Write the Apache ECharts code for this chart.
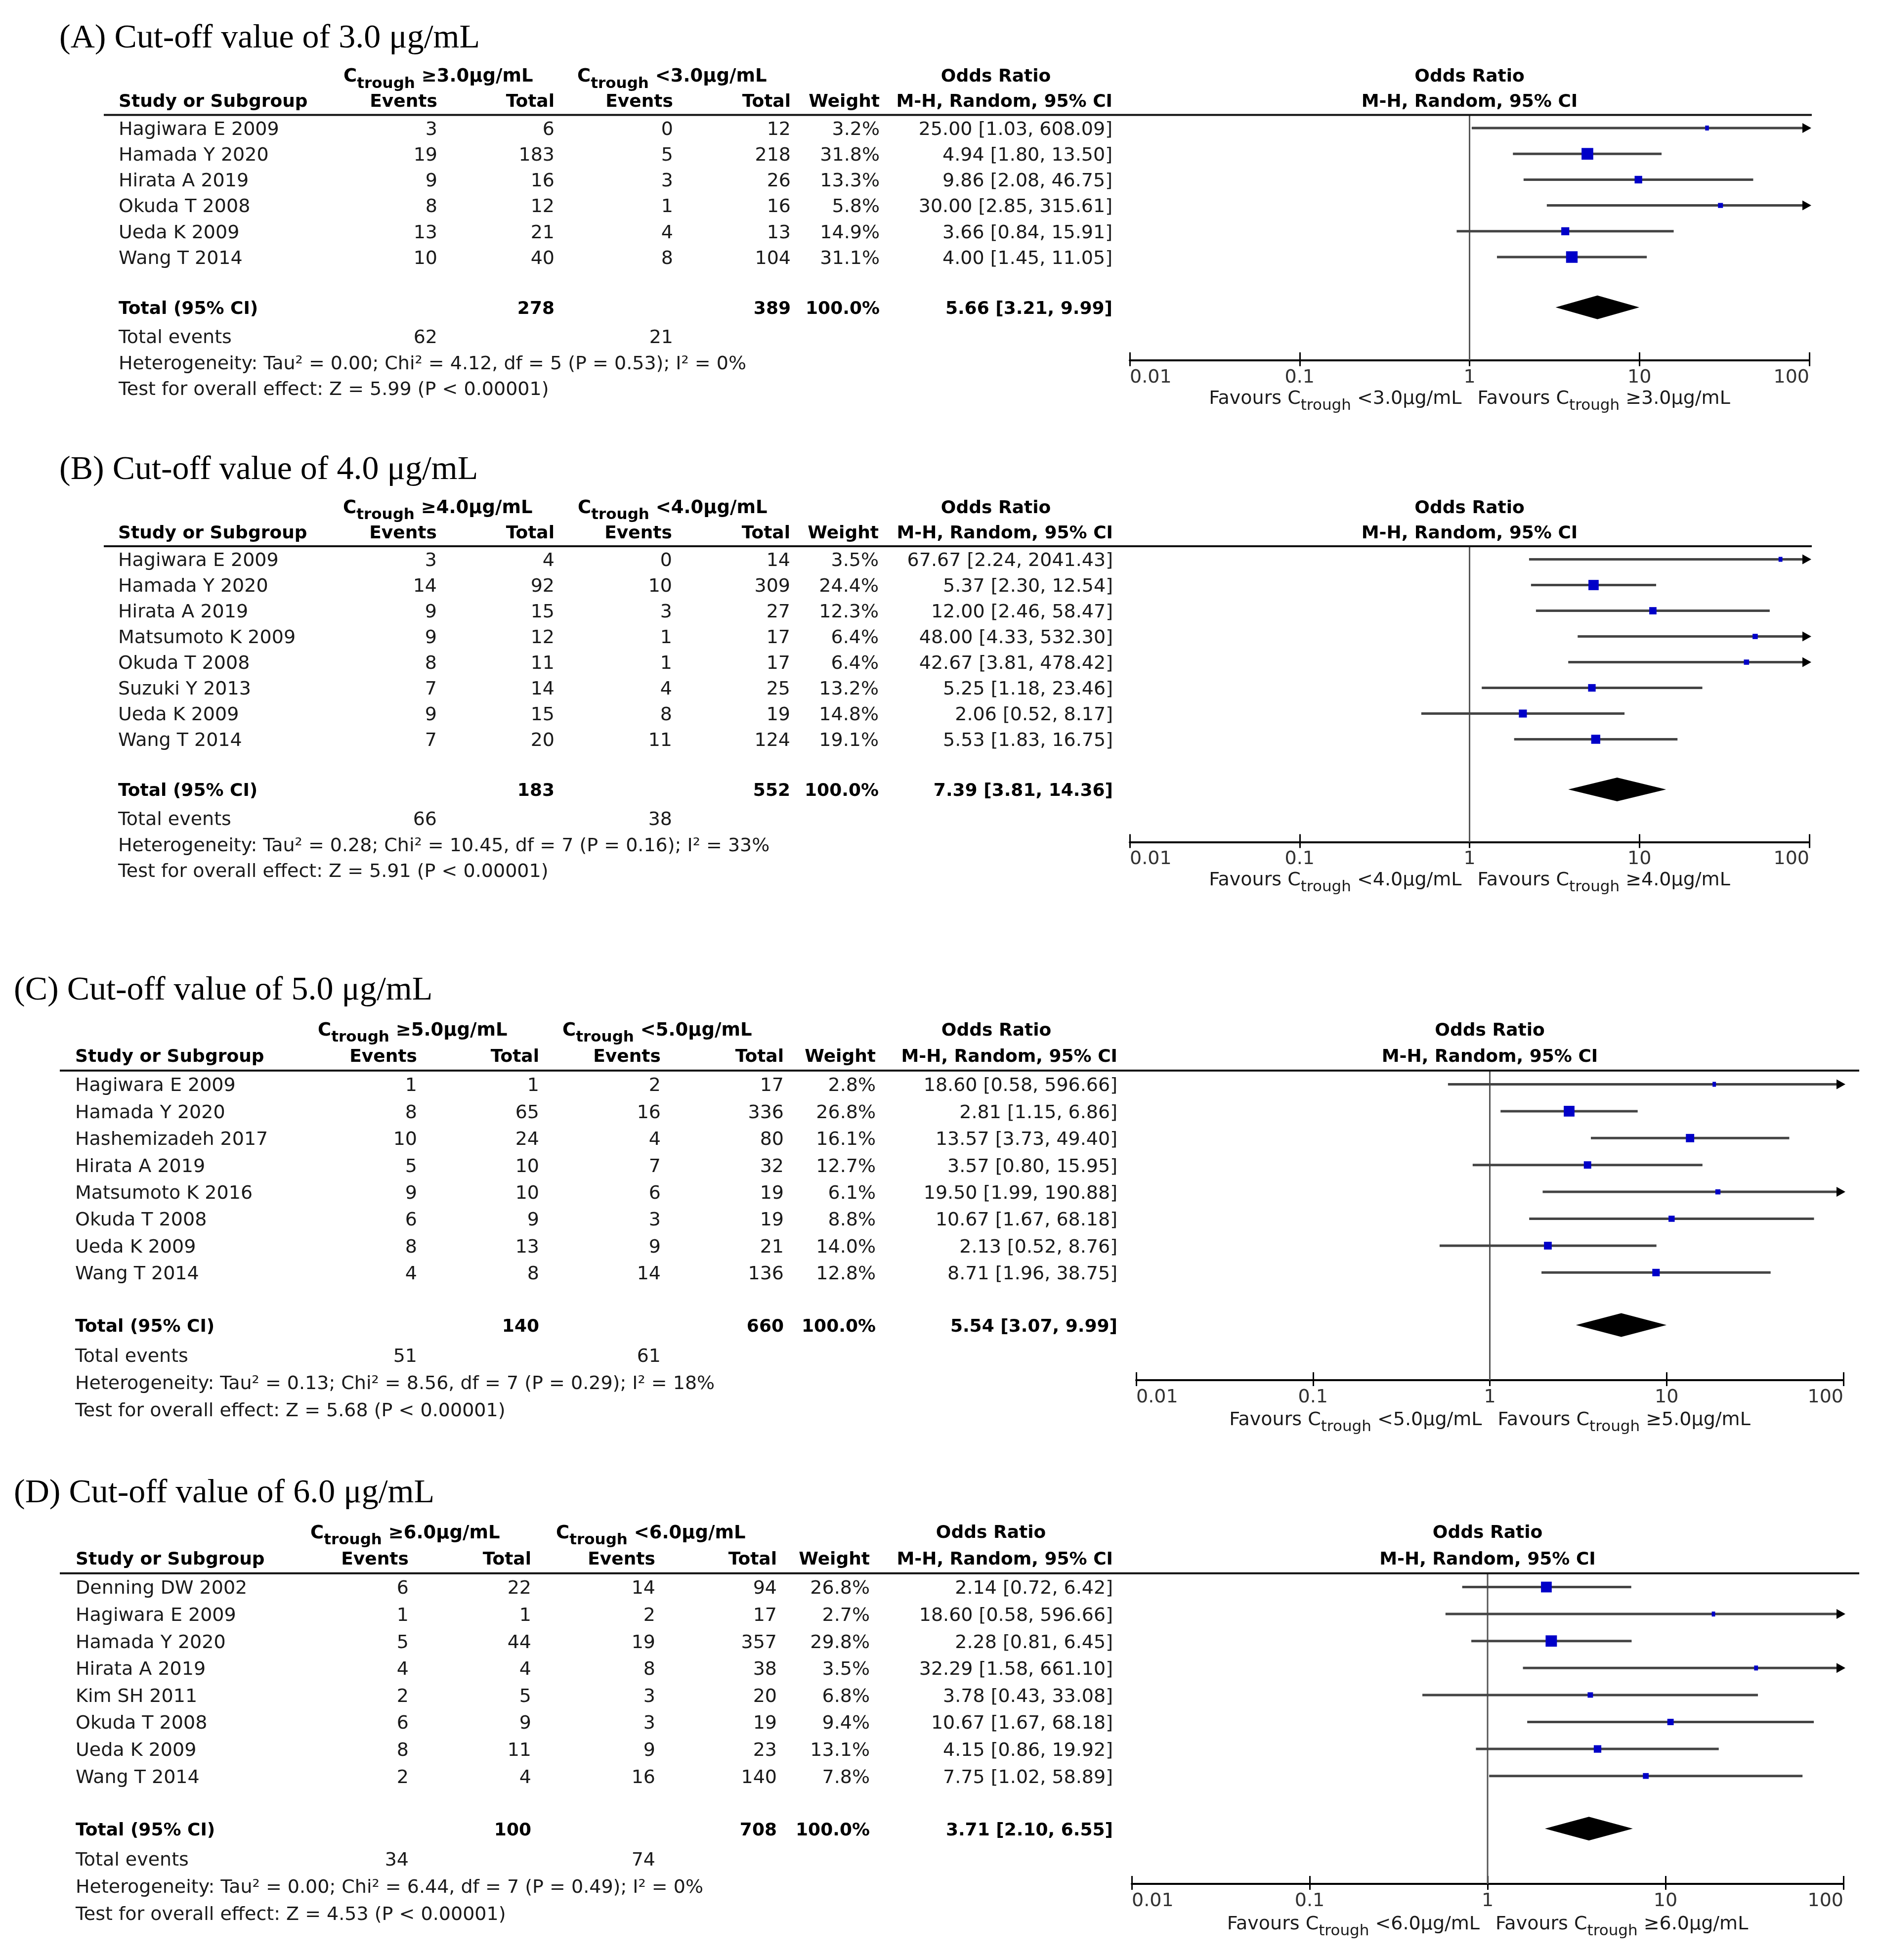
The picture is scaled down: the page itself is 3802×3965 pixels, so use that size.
<!DOCTYPE html>
<html>
<head>
<meta charset="utf-8">
<script src="https://cdn.jsdelivr.net/npm/echarts@6/dist/echarts.min.js"></script>
<style>
html,body{margin:0;padding:0;background:#ffffff;}
#chart{width:3802px;height:3965px;}
</style>
</head>
<body>
<div id="chart"></div>
<script>
// ---------------- DATA ----------------
const tickValues = [0.01, 0.1, 1, 10, 100];

// Panel A: cut-off 3.0
const studiesA = ['Hagiwara E 2009','Hamada Y 2020','Hirata A 2019','Okuda T 2008','Ueda K 2009','Wang T 2014'];
const eventsHighA = [3,19,9,8,13,10];
const totalHighA = [6,183,16,12,21,40];
const eventsLowA = [0,5,3,1,4,8];
const totalLowA = [12,218,26,16,13,104];
const weightA = [3.2,31.8,13.3,5.8,14.9,31.1];
const orA = [25.00,4.94,9.86,30.00,3.66,4.00];
const ciLowA = [1.03,1.80,2.08,2.85,0.84,1.45];
const ciHighA = [608.09,13.50,46.75,315.61,15.91,11.05];
const pooledA = [5.66,3.21,9.99];
const totalsA = [278,389,62,21];
const hetA = 'Heterogeneity: Tau\u00b2 = 0.00; Chi\u00b2 = 4.12, df = 5 (P = 0.53); I\u00b2 = 0%';
const testA = 'Test for overall effect: Z = 5.99 (P < 0.00001)';

// Panel B: cut-off 4.0
const studiesB = ['Hagiwara E 2009','Hamada Y 2020','Hirata A 2019','Matsumoto K 2009','Okuda T 2008','Suzuki Y 2013','Ueda K 2009','Wang T 2014'];
const eventsHighB = [3,14,9,9,8,7,9,7];
const totalHighB = [4,92,15,12,11,14,15,20];
const eventsLowB = [0,10,3,1,1,4,8,11];
const totalLowB = [14,309,27,17,17,25,19,124];
const weightB = [3.5,24.4,12.3,6.4,6.4,13.2,14.8,19.1];
const orB = [67.67,5.37,12.00,48.00,42.67,5.25,2.06,5.53];
const ciLowB = [2.24,2.30,2.46,4.33,3.81,1.18,0.52,1.83];
const ciHighB = [2041.43,12.54,58.47,532.30,478.42,23.46,8.17,16.75];
const pooledB = [7.39,3.81,14.36];
const totalsB = [183,552,66,38];
const hetB = 'Heterogeneity: Tau\u00b2 = 0.28; Chi\u00b2 = 10.45, df = 7 (P = 0.16); I\u00b2 = 33%';
const testB = 'Test for overall effect: Z = 5.91 (P < 0.00001)';

// Panel C: cut-off 5.0
const studiesC = ['Hagiwara E 2009','Hamada Y 2020','Hashemizadeh 2017','Hirata A 2019','Matsumoto K 2016','Okuda T 2008','Ueda K 2009','Wang T 2014'];
const eventsHighC = [1,8,10,5,9,6,8,4];
const totalHighC = [1,65,24,10,10,9,13,8];
const eventsLowC = [2,16,4,7,6,3,9,14];
const totalLowC = [17,336,80,32,19,19,21,136];
const weightC = [2.8,26.8,16.1,12.7,6.1,8.8,14.0,12.8];
const orC = [18.60,2.81,13.57,3.57,19.50,10.67,2.13,8.71];
const ciLowC = [0.58,1.15,3.73,0.80,1.99,1.67,0.52,1.96];
const ciHighC = [596.66,6.86,49.40,15.95,190.88,68.18,8.76,38.75];
const pooledC = [5.54,3.07,9.99];
const totalsC = [140,660,51,61];
const hetC = 'Heterogeneity: Tau\u00b2 = 0.13; Chi\u00b2 = 8.56, df = 7 (P = 0.29); I\u00b2 = 18%';
const testC = 'Test for overall effect: Z = 5.68 (P < 0.00001)';

// Panel D: cut-off 6.0
const studiesD = ['Denning DW 2002','Hagiwara E 2009','Hamada Y 2020','Hirata A 2019','Kim SH 2011','Okuda T 2008','Ueda K 2009','Wang T 2014'];
const eventsHighD = [6,1,5,4,2,6,8,2];
const totalHighD = [22,1,44,4,5,9,11,4];
const eventsLowD = [14,2,19,8,3,3,9,16];
const totalLowD = [94,17,357,38,20,19,23,140];
const weightD = [26.8,2.7,29.8,3.5,6.8,9.4,13.1,7.8];
const orD = [2.14,18.60,2.28,32.29,3.78,10.67,4.15,7.75];
const ciLowD = [0.72,0.58,0.81,1.58,0.43,1.67,0.86,1.02];
const ciHighD = [6.42,596.66,6.45,661.10,33.08,68.18,19.92,58.89];
const pooledD = [3.71,2.10,6.55];
const totalsD = [100,708,34,74];
const hetD = 'Heterogeneity: Tau\u00b2 = 0.00; Chi\u00b2 = 6.44, df = 7 (P = 0.49); I\u00b2 = 0%';
const testD = 'Test for overall effect: Z = 4.53 (P < 0.00001)';

const titles = ['(A) Cut-off value of 3.0 \u03bcg/mL','(B) Cut-off value of 4.0 \u03bcg/mL','(C) Cut-off value of 5.0 \u03bcg/mL','(D) Cut-off value of 6.0 \u03bcg/mL'];
const cutoffs = ['3.0','4.0','5.0','6.0'];

const panels = [
  {title:titles[0], cut:cutoffs[0], studies:studiesA, eH:eventsHighA, tH:totalHighA, eL:eventsLowA, tL:totalLowA, w:weightA, or:orA, lo:ciLowA, hi:ciHighA, pooled:pooledA, totals:totalsA, het:hetA, test:testA},
  {title:titles[1], cut:cutoffs[1], studies:studiesB, eH:eventsHighB, tH:totalHighB, eL:eventsLowB, tL:totalLowB, w:weightB, or:orB, lo:ciLowB, hi:ciHighB, pooled:pooledB, totals:totalsB, het:hetB, test:testB},
  {title:titles[2], cut:cutoffs[2], studies:studiesC, eH:eventsHighC, tH:totalHighC, eL:eventsLowC, tL:totalLowC, w:weightC, or:orC, lo:ciLowC, hi:ciHighC, pooled:pooledC, totals:totalsC, het:hetC, test:testC},
  {title:titles[3], cut:cutoffs[3], studies:studiesD, eH:eventsHighD, tH:totalHighD, eL:eventsLowD, tL:totalLowD, w:weightD, or:orD, lo:ciLowD, hi:ciHighD, pooled:pooledD, totals:totalsD, het:hetD, test:testD}
];

// ---------------- LAYOUT ----------------
const layouts = [
  {row0:259,    pitch:52.2, titleX:120, lineX0:210, lineX1:3666, fx0:2286, fx1:3661, cols:[240,885,1122,1362,1600,1780,2251], h1X:695, h2X:1168, orHdrX:2015},
  {row0:1131.5, pitch:52.0, titleX:120, lineX0:210, lineX1:3666, fx0:2286, fx1:3661, cols:[239,884,1122,1360,1599,1778,2252], h1X:694, h2X:1169, orHdrX:2015},
  {row0:2193.5, pitch:54.4, titleX:28,  lineX0:121, lineX1:3762, fx0:2299, fx1:3730, cols:[152,844,1091,1337,1586,1772,2261], h1X:643, h2X:1138, orHdrX:2016},
  {row0:3210.5, pitch:54.6, titleX:28,  lineX0:121, lineX1:3762, fx0:2290, fx1:3730, cols:[153,827,1075,1326,1572,1760,2252], h1X:628, h2X:1125, orHdrX:2005}
];

const SANS = '"DejaVu Sans", Verdana, sans-serif';
const SERIF = '"Liberation Serif", "Times New Roman", serif';
const TEXT_DY = 4;
const mctx = document.createElement('canvas').getContext('2d');
function textW(t, font) { mctx.font = font; return mctx.measureText(t).width; }
function fnt(size, bold) { return (bold ? 'bold ' : '') + size + 'px ' + SANS; }

function compound(prefix, rest, bold, big, small, color) {
  const f1 = fnt(big, bold), f2 = fnt(small, bold);
  const parts = [];
  let x = 0;
  const push = (t, f, dy) => { parts.push({t, f, dx: x, dy}); x += textW(t, f); };
  push(prefix + 'C', f1, 0);
  push('trough', f2, 14);
  push(' ' + rest, f1, 0);
  return {parts, width: x, color: color || '#000'};
}
function compEl(c, x, y) {
  const start = c.align === 'right' ? x - c.width : x;
  return {type: 'group', children: c.parts.map(pt => ({
    type: 'text', x: start + pt.dx, y: y + pt.dy,
    style: {text: pt.t, font: pt.f, fill: c.color, align: 'left', verticalAlign: 'middle'}
  }))};
}
function fmt2(v) { return v.toFixed(2); }

function buildCells(P, L) {
  const n = P.studies.length;
  const [cN, cE1, cT1, cE2, cT2, cW, cOR] = L.cols;
  const cells = [];
  const reg = fnt(38, false), bold = fnt(36, true);
  const add = (x, row, text, opt) => cells.push(Object.assign({kind: 'text', x, row, text, font: reg, align: 'left', color: '#1a1a1a'}, opt || {}));
  add(L.titleX, -3.55, P.title, {font: '68px ' + SERIF, color: '#000'});
  cells.push(Object.assign({kind: 'comp', x: L.h1X, row: -2.06, align: 'left'}, compound('', '\u2265' + P.cut + '\u03bcg/mL', true, 37, 31)));
  cells.push(Object.assign({kind: 'comp', x: L.h2X, row: -2.06, align: 'left'}, compound('', '<' + P.cut + '\u03bcg/mL', true, 37, 31)));
  add(L.orHdrX, -2.06, 'Odds Ratio', {font: bold, align: 'center', color: '#000'});
  const hb = {font: bold, color: '#000'};
  add(cN, -1.08, 'Study or Subgroup', hb);
  add(cE1, -1.08, 'Events', Object.assign({align: 'right'}, hb));
  add(cT1, -1.08, 'Total', Object.assign({align: 'right'}, hb));
  add(cE2, -1.08, 'Events', Object.assign({align: 'right'}, hb));
  add(cT2, -1.08, 'Total', Object.assign({align: 'right'}, hb));
  add(cW, -1.08, 'Weight', Object.assign({align: 'right'}, hb));
  add(cOR, -1.08, 'M-H, Random, 95% CI', Object.assign({align: 'right'}, hb));
  cells.push({kind: 'line', x: L.lineX0, x2: L.lineX1, row: -0.51});
  for (let i = 0; i < n; i++) {
    add(cN, i, P.studies[i]);
    add(cE1, i, String(P.eH[i]), {align: 'right'});
    add(cT1, i, String(P.tH[i]), {align: 'right'});
    add(cE2, i, String(P.eL[i]), {align: 'right'});
    add(cT2, i, String(P.tL[i]), {align: 'right'});
    add(cW, i, P.w[i].toFixed(1) + '%', {align: 'right'});
    add(cOR, i, fmt2(P.or[i]) + ' [' + fmt2(P.lo[i]) + ', ' + fmt2(P.hi[i]) + ']', {align: 'right'});
  }
  const tr = n + 0.95;
  add(cN, tr, 'Total (95% CI)', hb);
  add(cT1, tr, String(P.totals[0]), Object.assign({align: 'right'}, hb));
  add(cT2, tr, String(P.totals[1]), Object.assign({align: 'right'}, hb));
  add(cW, tr, '100.0%', Object.assign({align: 'right'}, hb));
  add(cOR, tr, fmt2(P.pooled[0]) + ' [' + fmt2(P.pooled[1]) + ', ' + fmt2(P.pooled[2]) + ']', Object.assign({align: 'right'}, hb));
  add(cN, n + 2.07, 'Total events');
  add(cE1, n + 2.07, String(P.totals[2]), {align: 'right'});
  add(cE2, n + 2.07, String(P.totals[3]), {align: 'right'});
  add(cN, n + 3.08, P.het);
  add(cN, n + 4.08, P.test);
  return cells;
}

function tableRender(cells) {
  return function (params, api) {
    const c = cells[params.dataIndex];
    const p = api.coord([c.x, c.row]);
    if (c.kind === 'line') {
      const p2 = api.coord([c.x2, c.row]);
      return {type: 'line', shape: {x1: p[0], y1: p[1], x2: p2[0], y2: p[1]}, style: {stroke: '#111', lineWidth: 4}};
    }
    if (c.kind === 'comp') return compEl(c, p[0], p[1] + TEXT_DY);
    return {type: 'text', x: p[0], y: p[1] + TEXT_DY,
      style: {text: c.text, font: c.font, fill: c.color, align: c.align, verticalAlign: 'middle'}};
  };
}

function annRender(items) {
  return function (params, api) {
    const it = items[params.dataIndex];
    const p = api.coord([1, it.row]);
    if (it.kind === 'favL') return compEl(it, p[0] - 16, p[1] + TEXT_DY);
    if (it.kind === 'favR') return compEl(it, p[0] + 16, p[1] + TEXT_DY);
    return {type: 'text', x: p[0], y: p[1] + TEXT_DY,
      style: {text: it.text, font: fnt(36, true), fill: '#000', align: 'center', verticalAlign: 'middle'}};
  };
}

function ciRender(params, api) {
  const est = api.value(0), lo = api.value(1), hi = api.value(2), row = api.value(3), w = api.value(4);
  const pLo = api.coord([Math.max(lo, 0.01), row]);
  const pHi = api.coord([Math.min(hi, 100), row]);
  const pE = api.coord([est, row]);
  const side = 4.2 * Math.sqrt(w);
  const h = Math.max(side, 10);
  const children = [
    {type: 'line', shape: {x1: pLo[0], y1: pLo[1], x2: pHi[0], y2: pHi[1]}, style: {stroke: '#444', lineWidth: 5}},
    {type: 'rect', shape: {x: pE[0] - side / 2, y: pE[1] - h / 2, width: side, height: h}, style: {fill: '#0000c8'}}
  ];
  if (hi > 100) {
    children.push({type: 'polygon', shape: {points: [[pHi[0] + 4, pHi[1]], [pHi[0] - 14, pHi[1] - 10], [pHi[0] - 14, pHi[1] + 10]]}, style: {fill: '#000'}});
  }
  return {type: 'group', children};
}

function diamondRender(params, api) {
  const est = api.value(0), lo = api.value(1), hi = api.value(2), row = api.value(3);
  const pl = api.coord([lo, row]), pr = api.coord([hi, row]), pe = api.coord([est, row]);
  return {type: 'polygon', shape: {points: [[pl[0], pl[1]], [pe[0], pe[1] - 24], [pr[0], pr[1]], [pe[0], pe[1] + 24]]}, style: {fill: '#000'}};
}

const grid = [], xAxis = [], yAxis = [], series = [];
panels.forEach((P, i) => {
  const L = layouts[i];
  const n = P.studies.length;
  const yMin = -0.51, yMax = n + 3;
  const top = L.row0 + yMin * L.pitch;
  const height = (yMax - yMin) * L.pitch;
  grid.push({left: 0, width: 3802, top, height, containLabel: false, outerBoundsMode: 'none', show: false});
  grid.push({left: L.fx0, width: L.fx1 - L.fx0, top, height, containLabel: false, outerBoundsMode: 'none', show: false});
  const gT = 2 * i, gF = 2 * i + 1;
  xAxis.push({type: 'value', gridIndex: gT, min: 0, max: 3802, show: false, axisLine: {onZero: false}});
  xAxis.push({type: 'log', logBase: 10, gridIndex: gF, min: tickValues[0], max: tickValues[tickValues.length - 1], position: 'bottom',
    axisLine: {show: true, onZero: false, lineStyle: {color: '#000', width: 4}},
    axisTick: {show: true, inside: true, length: 16, lineStyle: {color: '#000', width: 3}},
    axisLabel: {show: true, margin: 16, fontSize: 38, fontFamily: SANS, color: '#333', alignMinLabel: 'left', alignMaxLabel: 'right',
      formatter: v => String(+(+v).toPrecision(3))},
    splitLine: {show: false}, minorTick: {show: false}});
  xAxis.push({type: 'log', logBase: 10, gridIndex: gF, min: tickValues[0], max: tickValues[tickValues.length - 1], position: 'bottom',
    axisLine: {show: false, onZero: false},
    axisTick: {show: true, inside: false, length: 12, lineStyle: {color: '#000', width: 3}},
    axisLabel: {show: false}, splitLine: {show: false}});
  yAxis.push({type: 'value', gridIndex: gT, min: yMin, max: yMax, inverse: true, show: false, axisLine: {onZero: false}});
  yAxis.push({type: 'value', gridIndex: gF, min: yMin, max: yMax, inverse: true, show: false, axisLine: {onZero: false}, splitLine: {show: false}});

  const cells = buildCells(P, L);
  series.push({type: 'custom', xAxisIndex: 3 * i, yAxisIndex: gT, renderItem: tableRender(cells), clip: false,
    encode: {x: 0, y: 1}, data: cells.map(c => [c.x, c.row]), silent: true, z: 5});

  const ann = [
    {kind: 'text', text: 'Odds Ratio', row: -2.06},
    {kind: 'text', text: 'M-H, Random, 95% CI', row: -1.08},
    Object.assign({kind: 'favL', row: n + 4.42, align: 'right'}, compound('Favours ', '<' + P.cut + '\u03bcg/mL', false, 38, 31, '#1a1a1a')),
    Object.assign({kind: 'favR', row: n + 4.42, align: 'left'}, compound('Favours ', '\u2265' + P.cut + '\u03bcg/mL', false, 38, 31, '#1a1a1a'))
  ];
  series.push({type: 'custom', xAxisIndex: 3 * i + 1, yAxisIndex: gF, renderItem: annRender(ann), clip: false,
    encode: {x: 0, y: 1}, data: ann.map(a => [1, a.row]), silent: true, z: 5});

  series.push({type: 'line', xAxisIndex: 3 * i + 1, yAxisIndex: gF, data: [[1, yMin], [1, yMax]],
    showSymbol: false, symbol: 'none', lineStyle: {color: '#555', width: 3}, silent: true, z: 2});

  series.push({type: 'custom', xAxisIndex: 3 * i + 1, yAxisIndex: gF, renderItem: ciRender, clip: false,
    encode: {x: [0, 1, 2], y: 3},
    data: P.studies.map((s, k) => [P.or[k], P.lo[k], P.hi[k], k, P.w[k]]), silent: true, z: 4});

  series.push({type: 'custom', xAxisIndex: 3 * i + 1, yAxisIndex: gF, renderItem: diamondRender, clip: false,
    encode: {x: [0, 1, 2], y: 3},
    data: [[P.pooled[0], P.pooled[1], P.pooled[2], n + 0.95]], silent: true, z: 4});
});

const chart = echarts.init(document.getElementById('chart'), null, {renderer: 'canvas', width: 3802, height: 3965});
chart.setOption({
  backgroundColor: '#ffffff',
  animation: false,
  grid, xAxis, yAxis, series
});
</script>
</body>
</html>
